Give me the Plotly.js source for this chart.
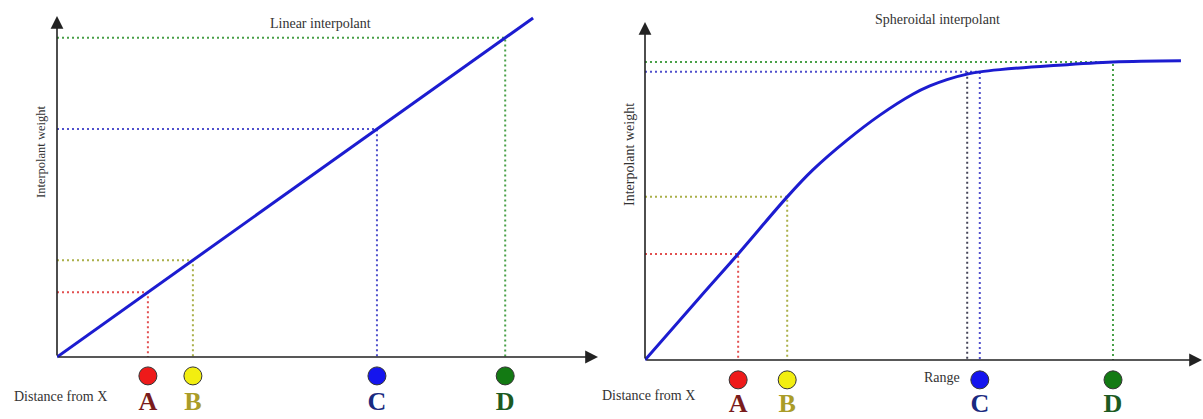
<!DOCTYPE html>
<html>
<head>
<meta charset="utf-8">
<script src="https://cdn.plot.ly/plotly-3.0.1.min.js"></script>
<style>html,body{margin:0;padding:0;background:#fff;}#chart{width:1203px;height:419px;}</style>
</head>
<body>
<div id="chart"></div>
<script>
// ---- Data (distance units / weight units) ----
const pointLabels = ["A", "B", "C", "D"];

// Linear interpolant panel
const linearCurveX = [0, 10.58];
const linearCurveY = [0, 10.58];
const linearPointX = [2.02, 3.02, 7.11, 9.96];
const linearPointY = [2.02, 3.02, 7.11, 9.96];

// Spheroidal interpolant panel
const spheroidCurveX = [0, 1.22, 2.07, 3.16, 3.73, 4.49, 5.22, 5.96, 6.33, 6.71, 7.16, 7.44, 7.89, 9.0, 10.4, 11.91];
const spheroidCurveY = [0, 1.96, 3.31, 5.09, 5.93, 6.86, 7.64, 8.30, 8.55, 8.75, 8.92, 8.99, 9.06, 9.18, 9.30, 9.34];
const spheroidPointX = [2.07, 3.16, 7.44, 10.4];
const spheroidPointY = [3.31, 5.09, 8.99, 9.30];
const rangeX = 7.16;
const rangeY = 8.99;

// ---- Styles ----
const guideColors = ["#e25050", "#aab04a", "#5050cc", "#48a048"];
const circleColors = ["#ee1a1a", "#f2ee10", "#1515ee", "#137a13"];
const letterColors = ["#7a1c1c", "#aa9c28", "#1a2a80", "#1c5a22"];
const serif = "Liberation Serif, Times New Roman, serif";
const dotted = "2px,3px";

const traces = [];

function addPanel(xa, ya, curveX, curveY, px, py, circleY, letterY) {
  for (let i = 0; i < px.length; i++) {
    traces.push({
      x: [0, px[i], px[i]], y: [py[i], py[i], 0],
      xaxis: xa, yaxis: ya, mode: "lines", hoverinfo: "skip",
      line: {color: guideColors[i], width: 2, dash: dotted}
    });
  }
  traces.push({
    x: curveX, y: curveY, xaxis: xa, yaxis: ya, mode: "lines",
    line: {color: "#1c1cd0", width: 3, shape: "spline", smoothing: 1},
    hoverinfo: "skip"
  });
  traces.push({
    x: px, y: px.map(() => circleY), xaxis: xa, yaxis: ya, mode: "markers",
    cliponaxis: false, hoverinfo: "skip",
    marker: {size: 18, color: circleColors, line: {color: "#333", width: 1}}
  });
  traces.push({
    x: px, y: px.map(() => letterY), xaxis: xa, yaxis: ya, mode: "text",
    text: pointLabels, textposition: "middle center", cliponaxis: false,
    hoverinfo: "skip",
    textfont: {family: serif, size: 26, color: letterColors, weight: "bold"}
  });
}

addPanel("x", "y", linearCurveX, linearCurveY, linearPointX, linearPointY, -0.59, -1.44);

traces.push({
  x: [rangeX, rangeX], y: [rangeY, 0], xaxis: "x2", yaxis: "y2", mode: "lines",
  hoverinfo: "skip", line: {color: "#444458", width: 2, dash: dotted}
});
addPanel("x2", "y2", spheroidCurveX, spheroidCurveY, spheroidPointX, spheroidPointY, -0.62, -1.42);

const W = 1203, H = 419;
const px2x = p => p / W;
const px2y = p => 1 - p / H;

const ax = (dom, rng) => ({
  domain: dom, range: rng, showgrid: false, zeroline: false, showline: false,
  showticklabels: false, ticks: "", fixedrange: true
});

const L = {x0: 57, x1: 598, y0: 357, y1: 16};
const R = {x0: 645, x1: 1202, y0: 360, y1: 22};
const xs = 45, ys = 32.05;

const layout = {
  width: W, height: H, margin: {l: 0, r: 0, t: 0, b: 0},
  paper_bgcolor: "#fff", plot_bgcolor: "rgba(0,0,0,0)", showlegend: false,
  xaxis: Object.assign(ax([px2x(L.x0), px2x(L.x1)], [0, (L.x1 - L.x0) / xs]), {anchor: "y"}),
  yaxis: Object.assign(ax([0, px2y(L.y1)], [-(H - L.y0) / ys, (L.y0 - L.y1) / ys]), {anchor: "x"}),
  xaxis2: Object.assign(ax([px2x(R.x0), px2x(R.x1)], [0, (R.x1 - R.x0) / xs]), {anchor: "y2"}),
  yaxis2: Object.assign(ax([0, px2y(R.y1)], [-(H - R.y0) / ys, (R.y0 - R.y1) / ys]), {anchor: "x2"}),
  annotations: []
};

function axisArrow(xref, yref, x, y) {
  return {xref: xref, yref: yref, axref: xref, ayref: yref, x: x, y: y, ax: 0, ay: 0,
    text: "", showarrow: true, arrowhead: 2, arrowsize: 1.6, arrowwidth: 1.6,
    arrowcolor: "#222", standoff: 0, startstandoff: 0};
}
layout.annotations.push(axisArrow("x", "y", (L.x1 - L.x0) / xs, 0));
layout.annotations.push(axisArrow("x", "y", 0, (L.y0 - L.y1) / ys));
layout.annotations.push(axisArrow("x2", "y2", (R.x1 - R.x0) / xs, 0));
layout.annotations.push(axisArrow("x2", "y2", 0, (R.y0 - R.y1) / ys));

function label(text, x, y, size, angle) {
  return {xref: "paper", yref: "paper", x: px2x(x), y: px2y(y), xanchor: "center", yanchor: "middle",
    text: text, showarrow: false, textangle: angle || 0,
    font: {family: serif, size: size, color: "#333"}};
}
layout.annotations.push(label("Linear interpolant", 320, 23, 14));
layout.annotations.push(label("Spheroidal interpolant", 937, 20, 14));
layout.annotations.push(label("Interpolant weight", 41, 152, 12.5, -90));
layout.annotations.push(label("Interpolant weight", 629, 155, 14, -90));
layout.annotations.push(label("Distance from X", 60, 396, 14));
layout.annotations.push(label("Distance from X", 648, 395, 14));
layout.annotations.push(label("Range", 942, 377, 14));

Plotly.newPlot("chart", traces, layout, {displayModeBar: false, staticPlot: true});
</script>
</body>
</html>
